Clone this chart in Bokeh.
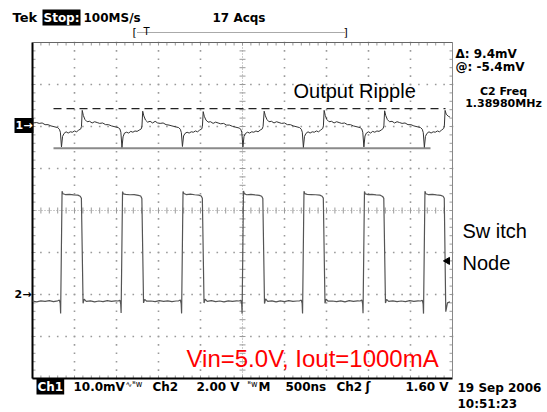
import numpy as np
from bokeh.plotting import figure
from bokeh.models import Range1d, Label
from bokeh.embed import file_html
from bokeh.resources import INLINE

# ---------------- data ----------------
# Channel 1: output ripple, time in ns (0 = trigger), value in mV
ripple_t = [
    -2500, -2450, -2420, -2385, -2350, -2315, -2280,
    -2200, -2180, -2168, -2155, -2142, -2125, -2100, -2075, -2050, -2025, -2000, -1975, -1950, -1925,
    -1917, -1908, -1895, -1875, -1850, -1820, -1790, -1760, -1730, -1700, -1665, -1630, -1595, -1560,
    -1480, -1460, -1448, -1435, -1422, -1405, -1380, -1355, -1330, -1305, -1280, -1255, -1230, -1205,
    -1197, -1188, -1175, -1155, -1130, -1100, -1070, -1040, -1010, -980, -945, -910, -875, -840,
    -760, -740, -728, -715, -702, -685, -660, -635, -610, -585, -560, -535, -510, -485,
    -477, -468, -455, -435, -410, -380, -350, -320, -290, -260, -225, -190, -155, -120,
    -40, -20, -8, 5, 18, 35, 60, 85, 110, 135, 160, 185, 210, 235,
    245, 258, 272, 292, 315, 345, 375, 405, 435, 465, 500, 535, 570, 605,
    680, 700, 712, 725, 738, 755, 780, 805, 830, 855, 880, 905, 930, 955,
    963, 972, 985, 1005, 1030, 1060, 1090, 1120, 1150, 1180, 1215, 1250, 1285, 1320,
    1400, 1420, 1432, 1445, 1458, 1475, 1500, 1525, 1550, 1575, 1600, 1625, 1650, 1675,
    1683, 1692, 1705, 1725, 1750, 1780, 1810, 1840, 1870, 1900, 1935, 1970, 2005, 2040,
    2120, 2140, 2152, 2165, 2178, 2195, 2220, 2245, 2270, 2295, 2320, 2345, 2370, 2395,
    2403, 2412, 2425, 2450, 2470]
ripple_mv = [
    0.6, 0.7, 0.5, 0.6, 0.2, 0.2, -0.1,
    -0.5, -0.9, -1.6, -5.1, -2.6, -1.9, -1.5, -1.8, -1.5, -1.6, -1.3, -1.5, -1.1, -0.8,
    -0.2, 3.6, 2.4, 1.4, 0.9, 1.0, 0.6, 0.9, 0.7, 0.5, 0.6, 0.2, 0.2, -0.1,
    -0.5, -0.8, -1.6, -5.2, -2.7, -1.8, -1.6, -1.8, -1.4, -1.6, -1.3, -1.4, -1.1, -0.8,
    -0.2, 3.4, 2.3, 1.3, 0.8, 1.0, 0.6, 1.0, 0.6, 0.5, 0.6, 0.2, 0.1, -0.1,
    -0.5, -0.9, -1.7, -5.0, -2.5, -1.9, -1.6, -1.8, -1.5, -1.6, -1.3, -1.5, -1.1, -0.8,
    -0.2, 3.3, 2.2, 1.3, 0.8, 0.9, 0.5, 0.8, 0.6, 0.4, 0.5, 0.1, 0.1, -0.2,
    -0.6, -0.9, -1.7, -5.1, -2.6, -1.9, -1.6, -1.8, -1.5, -1.6, -1.3, -1.5, -1.1, -0.8,
    -0.2, 3.4, 2.3, 1.4, 0.9, 1.0, 0.6, 0.9, 0.7, 0.5, 0.6, 0.2, 0.2, -0.1,
    -0.5, -0.9, -1.6, -5.2, -2.6, -1.9, -1.5, -1.8, -1.5, -1.6, -1.3, -1.5, -1.1, -0.7,
    -0.1, 3.6, 2.4, 1.4, 0.9, 1.0, 0.6, 0.9, 0.7, 0.5, 0.6, 0.2, 0.2, -0.1,
    -0.5, -0.8, -1.6, -5.1, -2.5, -1.8, -1.5, -1.8, -1.4, -1.6, -1.3, -1.4, -1.1, -0.7,
    -0.1, 3.5, 2.4, 1.4, 0.9, 1.0, 0.6, 0.9, 0.7, 0.5, 0.6, 0.2, 0.2, -0.1,
    -0.5, -0.9, -1.7, -5.2, -2.6, -1.9, -1.5, -1.8, -1.5, -1.6, -1.3, -1.5, -1.1, -0.7,
    -0.1, 3.6, 2.7, 2.2, 2.0]

# Channel 2: switch node, time in ns, value in V
switch_t = [-2500, -2450, -2400, -2350, -2300, -2250, -2200, -2180, -2170, -2165, -2148, -2138, -2110, -2060,
            -2010, -1960, -1932, -1918, -1898, -1885, -1860, -1810, -1760, -1710, -1660, -1610, -1560, -1510,
            -1480, -1460, -1450, -1445, -1428, -1418, -1390, -1340, -1290, -1240, -1212, -1198, -1178, -1165,
            -1140, -1090, -1040, -990, -940, -890, -840, -790,
            -760, -740, -730, -725, -708, -698, -670, -620, -570, -520, -492, -478, -458, -445,
            -420, -370, -320, -270, -220, -170, -120, -70,
            -40, -20, -10, -5, 12, 22, 50, 100, 150, 200, 228, 242, 262, 275,
            300, 350, 400, 450, 500, 550, 600, 650,
            680, 700, 710, 715, 732, 742, 770, 820, 870, 920, 948, 962, 982, 995,
            1020, 1070, 1120, 1170, 1220, 1270, 1320, 1370,
            1400, 1420, 1430, 1435, 1452, 1462, 1490, 1540, 1590, 1640, 1668, 1682, 1702, 1715,
            1740, 1790, 1840, 1890, 1940, 1990, 2040, 2090,
            2120, 2140, 2150, 2155, 2172, 2182, 2210, 2260, 2310, 2360, 2388, 2402, 2420, 2440, 2470]
switch_v = [-0.31, -0.35, -0.30, -0.33, -0.29, -0.34, -0.30, -0.27, -0.42, -0.90, 4.92, 4.80, 4.76, 4.77,
            4.74, 4.73, 4.68, 4.58, -0.42, -0.22, -0.33, -0.30, -0.35, -0.31, -0.34, -0.29, -0.33, -0.30,
            -0.31, -0.27, -0.44, -0.88, 4.90, 4.79, 4.77, 4.75, 4.76, 4.72, 4.69, 4.57, -0.40, -0.23,
            -0.32, -0.31, -0.34, -0.29, -0.33, -0.30, -0.34, -0.31,
            -0.30, -0.26, -0.43, -0.90, 4.91, 4.81, 4.76, 4.78, 4.75, 4.73, 4.69, 4.58, -0.41, -0.22,
            -0.33, -0.29, -0.34, -0.31, -0.35, -0.30, -0.33, -0.30,
            -0.31, -0.27, -0.44, -0.92, 4.93, 4.80, 4.75, 4.77, 4.74, 4.72, 4.68, 4.57, -0.43, -0.21,
            -0.33, -0.30, -0.35, -0.30, -0.34, -0.29, -0.33, -0.31,
            -0.30, -0.27, -0.42, -0.90, 4.92, 4.80, 4.77, 4.76, 4.75, 4.73, 4.68, 4.59, -0.42, -0.22,
            -0.32, -0.31, -0.34, -0.30, -0.35, -0.29, -0.33, -0.30,
            -0.31, -0.26, -0.43, -0.89, 4.91, 4.79, 4.76, 4.77, 4.74, 4.73, 4.67, 4.58, -0.41, -0.23,
            -0.33, -0.30, -0.34, -0.31, -0.34, -0.29, -0.33, -0.30,
            -0.31, -0.27, -0.44, -0.91, 4.92, 4.80, 4.76, 4.77, 4.74, 4.72, 4.68, 4.58, -0.82, -0.40, -0.35]

cursor_mv = [4.0, -5.4]          # cursor 1 (dashed), cursor 2 (solid)
trigger_level_v = [1.60]
trigger_time_ns = [2440]

# ---------------- scope geometry ----------------
W, H = 547, 412
SX0, SX1, SY0, SY1 = 32, 452, 42, 378     # graticule in pixels
NS_PER_PX = 500 / 42.0                    # 500 ns / div, 42 px / div


def X(px):
    return -2500 + (px - SX0) * NS_PER_PX


def Y(py):          # divisions, 0 at centre
    return 4 - (py - SY0) / 42.0


CH1_ZERO_PX, CH2_ZERO_PX = 125, 294
p = figure(width=W, height=H, x_range=Range1d(X(0), X(W)), y_range=Range1d(Y(H), Y(0)),
           x_axis_type=None, y_axis_type=None, toolbar_location=None, output_backend="svg",
           min_border=0, outline_line_color=None)
p.background_fill_color = "white"
p.border_fill_color = "white"
p.extra_y_ranges = {
    "ch1": Range1d((CH1_ZERO_PX - H) / 4.2, CH1_ZERO_PX / 4.2),   # 10 mV / div
    "ch2": Range1d((CH2_ZERO_PX - H) / 21.0, CH2_ZERO_PX / 21.0),  # 2 V / div
}

# ---------------- graticule ----------------
GRID = "#9a9a9a"
major_x = np.linspace(-2500, 2500, 11)
minor_x = np.linspace(-2500, 2500, 51)
major_y = np.linspace(-4, 4, 9)
minor_y = np.linspace(-4, 4, 41)
dx, dy = [], []
for mx in major_x[1:-1]:
    if mx != 0:
        dx += [mx] * len(minor_y)
        dy += list(minor_y)
for my in major_y[1:-1]:
    if my != 0:
        dx += list(minor_x)
        dy += [my] * len(minor_x)
p.scatter(dx, dy, marker="square", size=1.6, fill_color=GRID, line_color=None)

# centre cross with ticks
p.line([-2500, 2500], [0, 0], line_color=GRID, line_dash="1 2", line_width=1)
p.line([0, 0], [-4, 4], line_color=GRID, line_dash="1 2", line_width=1)
p.scatter(minor_x, [0] * len(minor_x), marker="dash", angle=np.pi / 2, size=6, line_color=GRID)
p.scatter([0] * len(minor_y), minor_y, marker="dash", size=6, line_color=GRID)

# edge ticks
tl_x, tl_y = 3 * NS_PER_PX, 3 / 42.0
p.segment(minor_x, [4] * 51, minor_x, [4 - tl_y] * 51, line_color=GRID)
p.segment(minor_x, [-4] * 51, minor_x, [-4 + tl_y] * 51, line_color=GRID)
p.segment([-2500] * 41, minor_y, [-2500 + tl_x] * 41, minor_y, line_color=GRID)
p.segment([2500] * 41, minor_y, [2500 - tl_x] * 41, minor_y, line_color=GRID)

# border
p.line([-2500, -2500], [-4, 4], line_color="black", line_width=2)
p.line([-2500, 2500], [-4, -4], line_color="black", line_width=2)
p.line([-2500, 2500], [4, 4], line_color="#666666", line_width=1)
p.line([2500, 2500], [-4, 4], line_color="#888888", line_width=1)

# ---------------- cursors ----------------
p.line([X(53), X(445)], [cursor_mv[0]] * 2, y_range_name="ch1",
       line_color="#222222", line_dash="8 5", line_width=1.2)
p.line([X(53), X(430)], [cursor_mv[1]] * 2, y_range_name="ch1",
       line_color="#8a8a8a", line_width=2)

# ---------------- traces ----------------
p.line(ripple_t, ripple_mv, y_range_name="ch1", line_color="#333333", line_width=1)
p.line(switch_t, switch_v, y_range_name="ch2", line_color="#555555", line_width=1.2)
p.scatter(trigger_time_ns, trigger_level_v, y_range_name="ch2", marker="triangle",
          angle=np.pi / 2, size=7, fill_color="black", line_color="black")

# ---------------- texts ----------------
SCOPE_FONT = "DejaVu Sans"


def lab(px, py, text, size="12px", color="black", bold=True, align="left", font=SCOPE_FONT, bg=None):
    kw = {}
    if bg is not None:
        kw = dict(background_fill_color=bg, padding=1)
    p.add_layout(Label(x=X(px), y=Y(py), text=text, text_font=font, text_font_size=size,
                       text_color=color, text_font_style="bold" if bold else "normal",
                       text_align=align, text_baseline="middle", **kw))


# top status line
lab(12, 17, "Tek", size="13px")
lab(42, 17, "Stop:", color="white", bg="black")
lab(83, 17, "100MS/s")
lab(212, 17, "17 Acqs")
lab(132, 32, "[", size="11px", bold=False)
lab(343, 32, "]", size="11px", bold=False)
lab(143, 31, "T", size="10px", bold=False)
p.line([X(137), X(344)], [Y(32), Y(32)], line_color="#555555", line_dash="1 1", line_width=1)

# right readouts
lab(455, 53, "Δ: 9.4mV")
lab(455, 66, "@: -5.4mV")
lab(503, 91, "C2 Freq", size="11px", align="center")
lab(503, 103, "1.38980MHz", size="11px", align="center")

# channel markers
lab(14, 125, "1→", size="11px", color="white", bg="black")
lab(14, 294, "2→", size="11px")

# annotations
lab(293, 90, "Output Ripple", size="20px", bold=False, font="Liberation Sans")
lab(462, 230, "Sw itch", size="20px", bold=False, font="Liberation Sans")
lab(462, 262, "Node", size="20px", bold=False, font="Liberation Sans")
lab(186, 358, "Vin=5.0V, Iout=1000mA", size="24px", bold=False, font="Liberation Sans", color="#ff0000")

# bottom status line
lab(36, 386, "Ch1", color="white", bg="black")
lab(73, 386, "10.0mV")
lab(125, 384, "∿ᴮw", size="8px", bold=False)
lab(152, 386, "Ch2")
lab(196, 386, "2.00 V")
lab(247, 384, "ᴮw", size="8px", bold=False)
lab(258, 386, "M")
lab(285, 386, "500ns")
lab(336, 386, "Ch2")
lab(365, 386, "ʃ")
lab(405, 386, "1.60 V")
lab(457, 387, "19 Sep 2006")
lab(457, 403, "10:51:23")

open("out.html", "w").write(file_html(p, INLINE))
